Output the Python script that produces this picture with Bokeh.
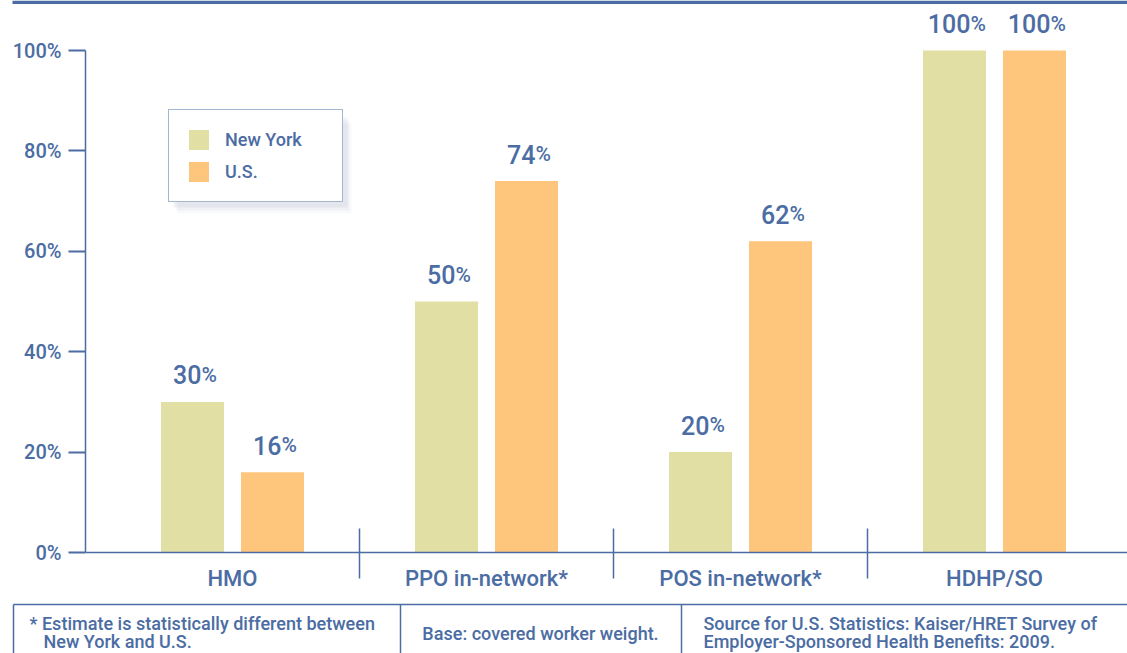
from bokeh.plotting import figure
from bokeh.models import (ColumnDataSource, LinearAxis, FixedTicker, Range1d,
                          Legend, LegendItem, BoxAnnotation)
from bokeh.core.properties import value
from bokeh.embed import file_html
from bokeh.resources import INLINE

# ---------------- data ----------------
categories = ["HMO", "PPO in-network*", "POS in-network*", "HDHP/SO"]
ny_values = [30, 50, 20, 100]
us_values = [16, 74, 62, 100]
series_names = ["New York", "U.S."]
y_ticks = [0, 20, 40, 60, 80, 100]
y_tick_labels = ["0%", "20%", "40%", "60%", "80%", "100%"]
footer_note = ["* Estimate is statistically different between", "New York and U.S."]
footer_base = "Base: covered worker weight."
footer_source = ["Source for U.S. Statistics: Kaiser/HRET Survey of",
                 "Employer-Sponsored Health Benefits: 2009."]

# ---------------- style ----------------
BLUE = "#4c6da3"
NY_COLOR = "#e1dfa3"
US_COLOR = "#fec67c"
FONT_NAME = "Roboto Medium"
FONT = value(FONT_NAME)

W, H = 1127, 653
PAGE = 0            # figure origin on the page
CAT_PX = 254        # width of one category in px
CAT0_PX = 105       # page x of the first category's left edge
ZERO_PX = 552       # page y of the 0% line
PX_PER_UNIT = 5.02  # px per percentage point


def dx(px):
    return (px - CAT0_PX) / CAT_PX


def dy(py):
    return (ZERO_PX - py) / PX_PER_UNIT


p = figure(width=W, height=H,
           x_range=Range1d(dx(PAGE), dx(PAGE + W)),
           y_range=Range1d(dy(PAGE + H), dy(PAGE)),
           x_axis_type=None, y_axis_type=None,
           toolbar_location=None, output_backend="svg",
           min_border=0, outline_line_color=None,
           background_fill_color="white", border_fill_color="white")

# ---------------- bars ----------------
OFFSET = 40 / CAT_PX
BAR_W = 63 / CAT_PX
n = len(categories)
centers = [i + 0.5 for i in range(n)]

ny_src = ColumnDataSource(dict(x=[c - OFFSET for c in centers], top=ny_values))
us_src = ColumnDataSource(dict(x=[c + OFFSET for c in centers], top=us_values))
r_ny = p.vbar(x="x", top="top", bottom=0, width=BAR_W, source=ny_src,
              fill_color=NY_COLOR, line_color=None)
r_us = p.vbar(x="x", top="top", bottom=0, width=BAR_W, source=us_src,
              fill_color=US_COLOR, line_color=None)

# ---------------- value labels ----------------
lab_x, lab_y, lab_num, lab_off = [], [], [], []
for src_vals, sign in ((ny_values, -1), (us_values, 1)):
    for c, v in zip(centers, src_vals):
        s = str(v)
        lab_x.append(c + sign * OFFSET)
        lab_y.append(v)
        lab_num.append(s)
        lab_off.append(3.5 + (14 * len(s) - 17) / 2)
lab_src = ColumnDataSource(dict(x=lab_x, y=lab_y, num=lab_num, off=lab_off,
                                pct=["%"] * len(lab_x)))
p.text(x="x", y="y", text="num", x_offset="off", y_offset=-27, source=lab_src,
       text_align="right", text_baseline="alphabetic", text_color=BLUE,
       text_font=FONT, text_font_size="25px")
p.text(x="x", y="y", text="pct", x_offset="off", y_offset=-27, source=lab_src,
       text_align="left", text_baseline="alphabetic", text_color=BLUE,
       text_font=FONT, text_font_size="21px")

# ---------------- axes ----------------
yaxis = LinearAxis(fixed_location=dx(85), bounds=(0, 100),
                   ticker=FixedTicker(ticks=y_ticks, minor_ticks=[]),
                   major_label_overrides={t: l for t, l in zip(y_ticks, y_tick_labels)},
                   axis_line_color=BLUE, axis_line_width=1.5,
                   major_tick_line_color=BLUE, major_tick_line_width=2,
                   major_tick_in=0, major_tick_out=17,
                   minor_tick_line_color=None,
                   major_label_standoff=7,
                   major_label_text_color=BLUE,
                   major_label_text_font=FONT_NAME,
                   major_label_text_font_size="20px")
p.add_layout(yaxis, "left")

xaxis = LinearAxis(fixed_location=0, bounds=(dx(85), dx(PAGE + W)),
                   ticker=FixedTicker(ticks=centers, minor_ticks=list(range(1, n))),
                   major_label_overrides={c: l for c, l in zip(centers, categories)},
                   axis_line_color=BLUE, axis_line_width=1.5,
                   major_tick_line_color=None, major_tick_in=0, major_tick_out=0,
                   minor_tick_line_color=BLUE, minor_tick_line_width=1.5,
                   minor_tick_in=24, minor_tick_out=26,
                   major_label_standoff=-13,
                   major_label_text_color=BLUE,
                   major_label_text_font=FONT_NAME,
                   major_label_text_font_size="22px")
p.add_layout(xaxis, "below")

# ---------------- top rule ----------------
p.quad(left=dx(12), right=dx(PAGE + W), top=dy(0), bottom=dy(3.5),
       fill_color=BLUE, line_color=None)

# ---------------- footer box ----------------
FT = 604
p.segment(x0=[dx(13), dx(13), dx(400), dx(681)],
          y0=[dy(FT), dy(FT), dy(FT), dy(FT)],
          x1=[dx(PAGE + W), dx(13), dx(400), dx(681)],
          y1=[dy(FT), dy(PAGE + H), dy(PAGE + H), dy(PAGE + H)],
          line_color=BLUE, line_width=1.5)
p.text(x=[dx(29), dx(43)], y=[dy(623), dy(641)], text=footer_note,
       text_align="left", text_baseline="middle", text_color=BLUE,
       text_font=FONT, text_font_size="18px")
p.text(x=[dx(540)], y=[dy(633)], text=[footer_base],
       text_align="center", text_baseline="middle", text_color=BLUE,
       text_font=FONT, text_font_size="18px")
p.text(x=[dx(703), dx(703)], y=[dy(623), dy(641)], text=footer_source,
       text_align="left", text_baseline="middle", text_color=BLUE,
       text_font=FONT, text_font_size="18px")

# ---------------- legend shadow + legend ----------------
for (ox, oy, a) in ((9, 11, 0.05), (7, 8, 0.07), (5, 5, 0.10)):
    p.add_layout(BoxAnnotation(left=dx(168 + ox), right=dx(342 + ox),
                               top=dy(112 + oy), bottom=dy(202 + oy),
                               fill_color="#7f8fa8", fill_alpha=a,
                               line_color=None, level="annotation"))

legend = Legend(items=[LegendItem(label=series_names[0], renderers=[r_ny]),
                       LegendItem(label=series_names[1], renderers=[r_us])],
                location=(168 - PAGE, PAGE + H - 202),
                orientation="vertical", margin=0, padding=17, spacing=7,
                glyph_width=25, glyph_height=25, label_standoff=14,
                label_width=100, label_height=25,
                label_text_font=FONT_NAME, label_text_font_size="18px",
                label_text_color=BLUE,
                border_line_color=BLUE, border_line_width=1,
                background_fill_color="white", background_fill_alpha=1.0)
p.add_layout(legend, "center")

open("out.html", "w").write(file_html(p, INLINE))
